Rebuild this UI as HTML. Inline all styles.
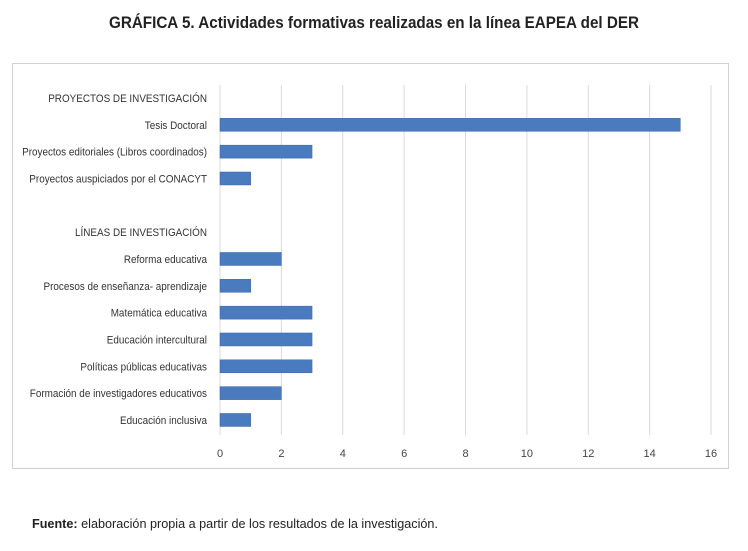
<!DOCTYPE html>
<html><head><meta charset="utf-8"><style>
body{margin:0;background:#fff;width:748px;height:546px;overflow:hidden;font-family:"Liberation Sans",sans-serif}
</style></head><body>
<svg width="748" height="546">
<text x="374" y="28" text-anchor="middle" font-size="17" font-weight="bold" fill="#222" textLength="530" lengthAdjust="spacingAndGlyphs">GRÁFICA 5. Actividades formativas realizadas en la línea EAPEA del DER</text>
<rect x="12.5" y="63.5" width="716" height="405" fill="#fff" stroke="#d0d0d0"/>
<g id="grid"></g><g id="bars"></g><g id="labels"></g><g id="ticks"></g>
<text x="32" y="528" font-size="13" fill="#222" textLength="406" lengthAdjust="spacingAndGlyphs"><tspan font-weight="bold">Fuente:</tspan> elaboración propia a partir de los resultados de la investigación.</text>
</svg>
<script>
const categories=["PROYECTOS DE INVESTIGACIÓN","Tesis Doctoral","Proyectos editoriales (Libros coordinados)","Proyectos auspiciados por el CONACYT","","LÍNEAS DE INVESTIGACIÓN","Reforma educativa","Procesos de enseñanza- aprendizaje","Matemática educativa","Educación intercultural","Políticas públicas educativas","Formación de investigadores educativos","Educación inclusiva"];
const values=[null,15,3,1,null,null,2,1,3,3,3,2,1];
const tickValues=[0,2,4,6,8,10,12,14,16];
const NS="http://www.w3.org/2000/svg";
const x=v=>220+v*(491/16);
const y=i=>98+i*26.83;
function mk(t,a,p){const e=document.createElementNS(NS,t);for(const k in a)e.setAttribute(k,a[k]);document.getElementById(p).appendChild(e);return e;}
tickValues.forEach(t=>{
 const g=mk('line',{x1:x(t),x2:x(t),y1:85,y2:435,stroke:'#d9d9d9'},'grid');
 
 
 const l=mk('text',{x:x(t),y:457,'text-anchor':'middle','font-size':'11',fill:'#444'},'ticks');
 l.textContent=t;
 
 
});
categories.forEach((c,i)=>{
 if(c){const l=mk('text',{x:207,y:y(i)+4,'text-anchor':'end','font-size':'11',fill:'#333'},'labels');
 l.textContent=c;
 
 
 const w=l.getComputedTextLength();
 l.setAttribute('textLength',(w*0.9).toFixed(1));
 l.setAttribute('lengthAdjust','spacingAndGlyphs');}
 if(values[i]!=null){const b=mk('rect',{x:x(0),y:y(i)-6.5,width:x(values[i])-x(0),height:13,fill:'#4a7bbf',stroke:'#3a66a3','stroke-width':'0.5'},'bars');
 
 }
});
</script>
</body></html>
